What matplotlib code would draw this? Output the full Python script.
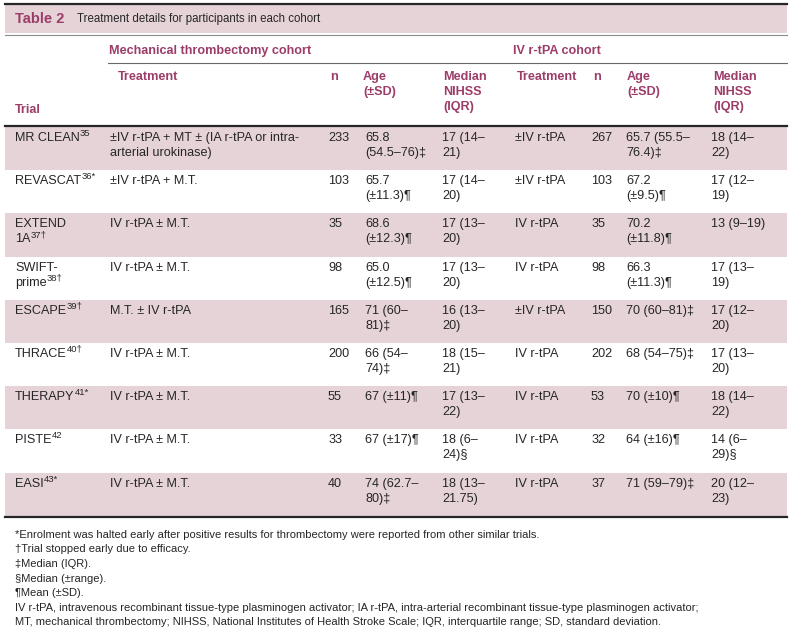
import matplotlib
matplotlib.use("Agg")
import matplotlib.pyplot as plt
from matplotlib import font_manager

# table content
trials = ["MR CLEAN", "REVASCAT", "EXTEND\n1A", "SWIFT-\nprime", "ESCAPE",
          "THRACE", "THERAPY", "PISTE", "EASI"]
trial_refs = ["35", "36*", "37†", "38†", "39†", "40†", "41*", "42", "43*"]
mt_treatment = ["±IV r-tPA + MT ± (IA r-tPA or intra-\narterial urokinase)",
                "±IV r-tPA + M.T.", "IV r-tPA ± M.T.", "IV r-tPA ± M.T.",
                "M.T. ± IV r-tPA", "IV r-tPA ± M.T.", "IV r-tPA ± M.T.",
                "IV r-tPA ± M.T.", "IV r-tPA ± M.T."]
mt_n = [233, 103, 35, 98, 165, 200, 55, 33, 40]
mt_age = ["65.8\n(54.5–76)‡", "65.7\n(±11.3)¶", "68.6\n(±12.3)¶", "65.0\n(±12.5)¶",
          "71 (60–\n81)‡", "66 (54–\n74)‡", "67 (±11)¶", "67 (±17)¶", "74 (62.7–\n80)‡"]
mt_nihss = ["17 (14–\n21)", "17 (14–\n20)", "17 (13–\n20)", "17 (13–\n20)",
            "16 (13–\n20)", "18 (15–\n21)", "17 (13–\n22)", "18 (6–\n24)§",
            "18 (13–\n21.75)"]
iv_treatment = ["±IV r-tPA", "±IV r-tPA", "IV r-tPA", "IV r-tPA", "±IV r-tPA",
                "IV r-tPA", "IV r-tPA", "IV r-tPA", "IV r-tPA"]
iv_n = [267, 103, 35, 98, 150, 202, 53, 32, 37]
iv_age = ["65.7 (55.5–\n76.4)‡", "67.2\n(±9.5)¶", "70.2\n(±11.8)¶", "66.3\n(±11.3)¶",
          "70 (60–81)‡", "68 (54–75)‡", "70 (±10)¶", "64 (±16)¶", "71 (59–79)‡"]
iv_nihss = ["18 (14–\n22)", "17 (12–\n19)", "13 (9–19)", "17 (13–\n19)",
            "17 (12–\n20)", "17 (13–\n20)", "18 (14–\n22)", "14 (6–\n29)§",
            "20 (12–\n23)"]
footnotes = [
    "*Enrolment was halted early after positive results for thrombectomy were reported from other similar trials.",
    "†Trial stopped early due to efficacy.",
    "‡Median (IQR).",
    "§Median (±range).",
    "¶Mean (±SD).",
    "IV r-tPA, intravenous recombinant tissue-type plasminogen activator; IA r-tPA, intra-arterial recombinant tissue-type plasminogen activator;",
    "MT, mechanical thrombectomy; NIHSS, National Institutes of Health Stroke Scale; IQR, interquartile range; SD, standard deviation.",
]

names = {f.name for f in font_manager.fontManager.ttflist}
FONT = "Liberation Sans Narrow" if "Liberation Sans Narrow" in names else "Liberation Sans"
plt.rcParams["font.family"] = [FONT, "DejaVu Sans"]

HEAD = "#9c3d69"
PINK = "#e6d3d8"
INK = "#262626"
FS = 9.1

fig = plt.figure(figsize=(7.92, 6.42), dpi=100)
ax = fig.add_axes([0, 0, 1, 1])
ax.set_xlim(0, 792)
ax.set_ylim(642, 0)
ax.axis("off")


def put(x, y, s, color=INK, size=FS, weight="normal"):
    return ax.text(x, y, s, color=color, fontsize=size, fontweight=weight,
                   ha="left", va="center")


def put_lines(x, y, s, **kw):
    objs = []
    for i, line in enumerate(s.split("\n")):
        objs.append(put(x, y + i * 15, line, **kw))
    return objs


# title band
ax.fill_between([5, 787], 4, 33, color=PINK, lw=0)
ax.plot([5, 787], [3.5, 3.5], color=INK, lw=1.6)
ax.plot([5, 787], [34.5, 34.5], color="#8a8a8a", lw=0.8)
put(15, 19, "Table 2", color=HEAD, size=10.5, weight="bold")
put(77, 19, "Treatment details for participants in each cohort", size=8.3)

# column headers
put(109, 51, "Mechanical thrombectomy cohort", color=HEAD, weight="bold")
put(513, 51, "IV r-tPA cohort", color=HEAD, weight="bold")
ax.plot([108, 787], [62.5, 62.5], color="#6a6a6a", lw=0.8)
put(15, 110, "Trial", color=HEAD, weight="bold")
put(118, 77, "Treatment", color=HEAD, weight="bold")
put(330, 77, "n", color=HEAD, weight="bold")
put_lines(363, 77, "Age\n(±SD)", color=HEAD, weight="bold")
put_lines(443, 77, "Median\nNIHSS\n(IQR)", color=HEAD, weight="bold")
put(517, 77, "Treatment", color=HEAD, weight="bold")
put(593, 77, "n", color=HEAD, weight="bold")
put_lines(627, 77, "Age\n(±SD)", color=HEAD, weight="bold")
put_lines(713, 77, "Median\nNIHSS\n(IQR)", color=HEAD, weight="bold")
ax.plot([5, 787], [125.5, 125.5], color=INK, lw=1.6)

# body rows
top0, row_h = 127, 43.2
sup_jobs = []
for i in range(len(trials)):
    top = top0 + i * row_h
    if i % 2 == 0:
        ax.fill_between([5, 787], top, top + row_h, color=PINK, lw=0)
    y = top + 11
    objs = put_lines(15, y, trials[i])
    sup_jobs.append((objs[-1], trial_refs[i]))
    put_lines(110, y, mt_treatment[i])
    put(328, y, str(mt_n[i]))
    put_lines(365, y, mt_age[i])
    put_lines(442, y, mt_nihss[i])
    put_lines(515, y, iv_treatment[i])
    put(591, y, str(iv_n[i]))
    put_lines(626, y, iv_age[i])
    put_lines(711, y, iv_nihss[i])

bottom = top0 + len(trials) * row_h
ax.plot([5, 787], [bottom + 1.5, bottom + 1.5], color=INK, lw=1.6)

# superscripts placed after measuring the base text
fig.canvas.draw()
r = fig.canvas.get_renderer()
for obj, ref in sup_jobs:
    bb = obj.get_window_extent(renderer=r)
    _, yy = obj.get_position()
    ax.text(bb.x1 + 0.3, yy - 4.5, ref, color=INK, fontsize=6.8,
            ha="left", va="center")

# footnotes
for k, note in enumerate(footnotes):
    put(15, bottom + 19 + k * 14.6, note, size=8.0)

fig.savefig("out.png", dpi=100)
